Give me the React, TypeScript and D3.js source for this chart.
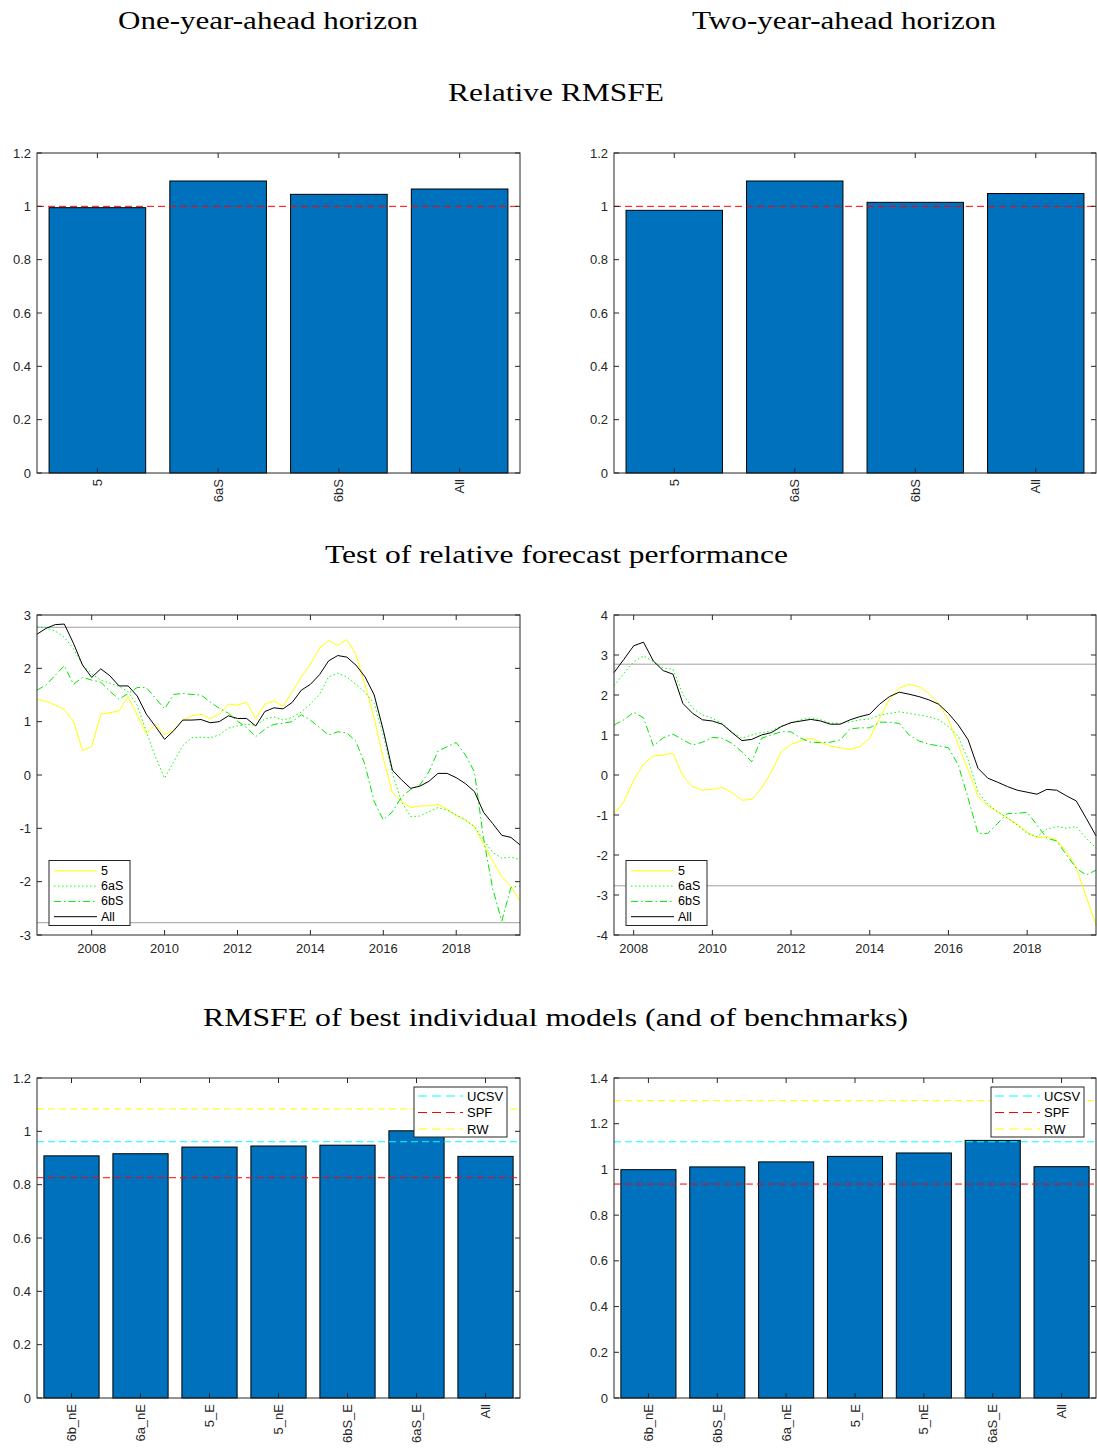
import React from "react";
import * as d3 from "d3";

// ---------- DATA ----------
const topCats = ["5", "6aS", "6bS", "All"];
const topLeftVals = [0.995, 1.095, 1.045, 1.065];
const topRightVals = [0.985, 1.095, 1.015, 1.048];

const seriesNames = ["5", "6aS", "6bS", "All"];
const leftStart = 2006.5; // quarterly
const rightStart = 2007.5; // quarterly
const left5 = [1.42, 1.38, 1.31, 1.23, 1.01, 0.46, 0.53, 1.14, 1.17, 1.2, 1.47, 1.12, 0.78, 0.95, 0.76, 0.84, 1.03, 1.11, 1.14, 1.06, 1.14, 1.33, 1.31, 1.36, 1.06, 1.33,
  1.39, 1.29, 1.56, 1.84, 2.08, 2.38, 2.52, 2.43, 2.54, 2.26, 1.69, 1.06, 0.31, -0.33, -0.5, -0.61, -0.58, -0.58, -0.55, -0.64, -0.76, -0.84, -0.97, -1.3, -1.61, -1.91, -2.09, -2.36];
const left6aS = [2.78, 2.76, 2.7, 2.58, 2.37, 2.06, 1.9, 1.78, 1.72, 1.66, 1.56, 1.31, 0.81, 0.34, -0.06, 0.25, 0.55, 0.7, 0.71, 0.7, 0.75, 0.88, 0.92, 0.95, 0.93, 1.05,
  1.09, 1.03, 1.08, 1.18, 1.33, 1.51, 1.84, 1.91, 1.84, 1.7, 1.55, 1.34, 0.75, 0.03, -0.5, -0.78, -0.77, -0.69, -0.61, -0.66, -0.75, -0.84, -0.97, -1.22, -1.45, -1.56, -1.54, -1.59];
const left6bS = [1.59, 1.69, 1.87, 2.05, 1.7, 1.83, 1.78, 1.74, 1.57, 1.42, 1.53, 1.64, 1.64, 1.44, 1.24, 1.51, 1.53, 1.51, 1.5, 1.37, 1.25, 1.16, 1.01, 0.89, 0.72, 0.86,
  0.95, 0.97, 1.0, 1.13, 1.03, 0.89, 0.75, 0.81, 0.79, 0.63, 0.19, -0.5, -0.84, -0.69, -0.41, -0.27, -0.19, 0.06, 0.45, 0.53, 0.61, 0.38, 0.06, -1.19, -2.13, -2.74, -2.11, -2.08];
const leftAll = [2.64, 2.75, 2.82, 2.83, 2.47, 2.06, 1.83, 1.99, 1.86, 1.67, 1.67, 1.48, 1.14, 0.91, 0.67, 0.83, 1.03, 1.03, 1.04, 0.98, 1.0, 1.11, 1.06, 1.06, 0.92, 1.19,
  1.26, 1.24, 1.36, 1.59, 1.7, 1.88, 2.14, 2.24, 2.21, 2.06, 1.84, 1.5, 0.84, 0.09, -0.09, -0.25, -0.21, -0.12, 0.03, 0.03, -0.05, -0.16, -0.31, -0.7, -0.91, -1.13, -1.17, -1.31];

const right5 = [-0.98, -0.67, -0.13, 0.27, 0.48, 0.5, 0.54, -0.02, -0.29, -0.38, -0.36, -0.31, -0.44, -0.63, -0.61, -0.33, 0.08, 0.58, 0.77, 0.85, 0.92, 0.82,
  0.72, 0.68, 0.64, 0.71, 0.92, 1.42, 1.9, 2.17, 2.27, 2.21, 2.04, 1.79, 1.38, 0.75, 0.13, -0.54, -0.77, -0.92, -1.07, -1.23, -1.43, -1.57, -1.54, -1.63, -1.92, -2.33, -3.04, -3.75];
const right6aS = [2.23, 2.54, 2.83, 2.98, 2.83, 2.67, 2.65, 2.02, 1.67, 1.5, 1.42, 1.29, 1.08, 0.92, 1.0, 1.06, 1.1, 1.23, 1.29, 1.38, 1.43, 1.38,
  1.3, 1.29, 1.33, 1.38, 1.4, 1.5, 1.54, 1.58, 1.54, 1.5, 1.46, 1.38, 1.21, 0.96, 0.38, -0.42, -0.73, -0.92, -1.08, -1.25, -1.46, -1.54, -1.35, -1.29, -1.33, -1.29, -1.58, -1.83];
const right6bS = [1.25, 1.38, 1.57, 1.43, 0.73, 0.93, 1.02, 0.88, 0.75, 0.82, 0.94, 0.92, 0.79, 0.58, 0.33, 0.92, 1.0, 1.08, 1.08, 0.92, 0.82, 0.81,
  0.82, 0.88, 1.15, 1.18, 1.18, 1.32, 1.32, 1.29, 1.0, 0.85, 0.77, 0.73, 0.68, 0.25, -0.58, -1.46, -1.46, -1.21, -0.96, -0.96, -0.93, -1.25, -1.58, -1.65, -2.0, -2.33, -2.5, -2.38];
const rightAll = [2.56, 2.89, 3.23, 3.32, 2.85, 2.61, 2.52, 1.79, 1.54, 1.38, 1.35, 1.27, 1.06, 0.86, 0.89, 1.0, 1.06, 1.21, 1.31, 1.35, 1.39, 1.35,
  1.27, 1.27, 1.38, 1.46, 1.52, 1.77, 1.96, 2.07, 2.02, 1.96, 1.88, 1.77, 1.54, 1.25, 0.88, 0.17, -0.08, -0.18, -0.29, -0.38, -0.43, -0.48, -0.36, -0.38, -0.52, -0.65, -1.08, -1.52];
const criticalValue = 2.77;
const yearTicks = [2008, 2010, 2012, 2014, 2016, 2018];

const botLeftCats = ["6b_nE", "6a_nE", "5_E", "5_nE", "6bS_E", "6aS_E", "All"];
const botLeftVals = [0.908, 0.916, 0.941, 0.945, 0.948, 1.002, 0.906];
const botRightCats = ["6b_nE", "6bS_E", "6a_nE", "5_E", "5_nE", "6aS_E", "All"];
const botRightVals = [0.999, 1.011, 1.033, 1.057, 1.072, 1.127, 1.012];
const benchNames = ["UCSV", "SPF", "RW"];
const benchLeft = [0.961, 0.826, 1.084];
const benchRight = [1.121, 0.936, 1.301];

// ---------- STYLE ----------
const AX = "#262626";
const SANS = "'Liberation Sans', Arial, sans-serif";
const SERIF = "'Liberation Serif', 'DejaVu Serif', serif";
const BAR = "#0072BD";
const benchColors = ["#00FFFF", "#FF0000", "#FFFF00"];
const seriesStyles = [
  { color: "#FFFF00", dash: "none" },
  { color: "#00FF00", dash: "1.5,2.5" },
  { color: "#00E600", dash: "7,3,1.5,3" },
  { color: "#000000", dash: "none" },
];

type BarProps = {
  left: number; right: number; top: number; bottom: number;
  cats: string[]; vals: number[]; yMax: number; yStep: number;
  refs: { v: number; color: string }[];
  legend?: { x: number; y: number; w: number; h: number; names: string[]; colors: string[] };
};

function BarPanel(p: BarProps) {
  const x = d3.scaleBand<string>().domain(p.cats).range([p.left, p.right]).paddingInner(0.2).paddingOuter(0.1);
  const y = d3.scaleLinear().domain([0, p.yMax]).range([p.bottom, p.top]);
  const ticks = d3.range(0, p.yMax + 1e-9, p.yStep);
  const tl = 5;
  return (
    <g>
      {p.cats.map((c, i) => (
        <rect key={c} x={x(c)!} y={y(p.vals[i])} width={x.bandwidth()} height={y(0) - y(p.vals[i])}
          fill={BAR} stroke="#000" strokeWidth={1} />
      ))}
      {p.refs.map((r, i) => (
        <line key={i} x1={p.left} x2={p.right} y1={y(r.v)} y2={y(r.v)} stroke={r.color} strokeWidth={1} strokeDasharray="7,4" />
      ))}
      <rect x={p.left} y={p.top} width={p.right - p.left} height={p.bottom - p.top} fill="none" stroke={AX} strokeWidth={1} />
      {ticks.map((t) => (
        <g key={t}>
          <line x1={p.left} x2={p.left + tl} y1={y(t)} y2={y(t)} stroke={AX} />
          <line x1={p.right} x2={p.right - tl} y1={y(t)} y2={y(t)} stroke={AX} />
          <text x={p.left - 6} y={y(t)} textAnchor="end" dominantBaseline="central" fontSize={13} fontFamily={SANS} fill={AX}>
            {d3.format("~g")(+t.toFixed(2))}
          </text>
        </g>
      ))}
      {p.cats.map((c) => {
        const cx = x(c)! + x.bandwidth() / 2;
        return (
          <g key={c}>
            <line x1={cx} x2={cx} y1={p.bottom} y2={p.bottom - tl} stroke={AX} />
            <line x1={cx} x2={cx} y1={p.top} y2={p.top + tl} stroke={AX} />
            <text transform={`translate(${cx},${p.bottom + 6}) rotate(-90)`} textAnchor="end" dominantBaseline="central"
              fontSize={13} fontFamily={SANS} fill={AX}>{c}</text>
          </g>
        );
      })}
      {p.legend && (
        <g>
          <rect x={p.legend.x} y={p.legend.y} width={p.legend.w} height={p.legend.h} fill="#fff" stroke={AX} strokeWidth={1} />
          {p.legend.names.map((n, i) => {
            const ly = p.legend!.y + 9 + i * 16.5;
            return (
              <g key={n}>
                <line x1={p.legend!.x + 4} x2={p.legend!.x + 49} y1={ly} y2={ly} stroke={p.legend!.colors[i]} strokeDasharray="9,5" />
                <text x={p.legend!.x + 53} y={ly} dominantBaseline="central" fontSize={13} fontFamily={SANS} fill="#000">{n}</text>
              </g>
            );
          })}
        </g>
      )}
    </g>
  );
}

type LineProps = {
  left: number; right: number; top: number; bottom: number;
  start: number; yMin: number; yMax: number; series: number[][];
};

function LinePanel(p: LineProps) {
  const n = p.series[0].length;
  const x = d3.scaleLinear().domain([p.start, p.start + (n - 1) * 0.25]).range([p.left, p.right]);
  const y = d3.scaleLinear().domain([p.yMin, p.yMax]).range([p.bottom, p.top]);
  const line = d3.line<number>().x((_, i) => x(p.start + i * 0.25)).y((d) => y(d));
  const yTicks = d3.range(p.yMin, p.yMax + 1e-9, 1);
  const tl = 5;
  const lx = p.left + 12, ly = 860.5;
  return (
    <g>
      <line x1={p.left} x2={p.right} y1={y(criticalValue)} y2={y(criticalValue)} stroke="#a0a0a0" strokeWidth={1} />
      <line x1={p.left} x2={p.right} y1={y(-criticalValue)} y2={y(-criticalValue)} stroke="#a0a0a0" strokeWidth={1} />
      {p.series.map((s, i) => (
        <path key={i} d={line(s)!} fill="none" stroke={seriesStyles[i].color} strokeWidth={1}
          strokeDasharray={seriesStyles[i].dash} />
      ))}
      <rect x={p.left} y={p.top} width={p.right - p.left} height={p.bottom - p.top} fill="none" stroke={AX} strokeWidth={1} />
      {yTicks.map((t) => (
        <g key={t}>
          <line x1={p.left} x2={p.left + tl} y1={y(t)} y2={y(t)} stroke={AX} />
          <line x1={p.right} x2={p.right - tl} y1={y(t)} y2={y(t)} stroke={AX} />
          <text x={p.left - 6} y={y(t)} textAnchor="end" dominantBaseline="central" fontSize={13} fontFamily={SANS} fill={AX}>{t}</text>
        </g>
      ))}
      {yearTicks.map((t) => (
        <g key={t}>
          <line x1={x(t)} x2={x(t)} y1={p.bottom} y2={p.bottom - tl} stroke={AX} />
          <line x1={x(t)} x2={x(t)} y1={p.top} y2={p.top + tl} stroke={AX} />
          <text x={x(t)} y={p.bottom + 13} textAnchor="middle" dominantBaseline="central" fontSize={13} fontFamily={SANS} fill={AX}>{t}</text>
        </g>
      ))}
      <rect x={lx} y={ly} width={81} height={65} fill="#fff" stroke={AX} strokeWidth={1} />
      {seriesNames.map((nm, i) => {
        const yy = ly + 10.3 + i * 15.3;
        return (
          <g key={nm}>
            <line x1={lx + 5} x2={lx + 48} y1={yy} y2={yy} stroke={seriesStyles[i].color} strokeDasharray={seriesStyles[i].dash} />
            <text x={lx + 52} y={yy} dominantBaseline="central" fontSize={12.5} fontFamily={SANS} fill="#000">{nm}</text>
          </g>
        );
      })}
    </g>
  );
}

function Title({ x, y, w, text }: { x: number; y: number; w: number; text: string }) {
  return (
    <text x={x} y={y} textAnchor="middle" fontSize={26} fontFamily={SERIF} fill="#000" textLength={w} lengthAdjust="spacingAndGlyphs">{text}</text>
  );
}

export default function App() {
  const L = { left: 37, right: 520 };
  const R = { left: 614, right: 1096 };
  return (
    <svg width={1097} height={1450} style={{ position: "absolute", left: 0, top: 0, background: "#fff" }}>
      <rect width={1097} height={1450} fill="#fff" />
      <Title x={268} y={29} w={300} text="One-year-ahead horizon" />
      <Title x={844} y={29} w={304} text="Two-year-ahead horizon" />
      <Title x={556} y={101} w={216} text="Relative RMSFE" />
      <Title x={556.5} y={563} w={463} text="Test of relative forecast performance" />
      <Title x={555.5} y={1026} w={705} text="RMSFE of best individual models (and of benchmarks)" />

      <BarPanel {...L} top={153} bottom={473} cats={topCats} vals={topLeftVals} yMax={1.2} yStep={0.2}
        refs={[{ v: 1, color: "#FF0000" }]} />
      <BarPanel {...R} top={153} bottom={473} cats={topCats} vals={topRightVals} yMax={1.2} yStep={0.2}
        refs={[{ v: 1, color: "#FF0000" }]} />

      <LinePanel {...L} top={615} bottom={935} start={leftStart} yMin={-3} yMax={3}
        series={[left5, left6aS, left6bS, leftAll]} />
      <LinePanel {...R} top={615} bottom={935} start={rightStart} yMin={-4} yMax={4}
        series={[right5, right6aS, right6bS, rightAll]} />

      <BarPanel {...L} top={1078} bottom={1398} cats={botLeftCats} vals={botLeftVals} yMax={1.2} yStep={0.2}
        refs={benchLeft.map((v, i) => ({ v, color: benchColors[i] }))}
        legend={{ x: 414, y: 1087, w: 93, h: 50, names: benchNames, colors: benchColors }} />
      <BarPanel {...R} top={1078} bottom={1398} cats={botRightCats} vals={botRightVals} yMax={1.4} yStep={0.2}
        refs={benchRight.map((v, i) => ({ v, color: benchColors[i] }))}
        legend={{ x: 991, y: 1087, w: 93, h: 50, names: benchNames, colors: benchColors }} />
    </svg>
  );
}
